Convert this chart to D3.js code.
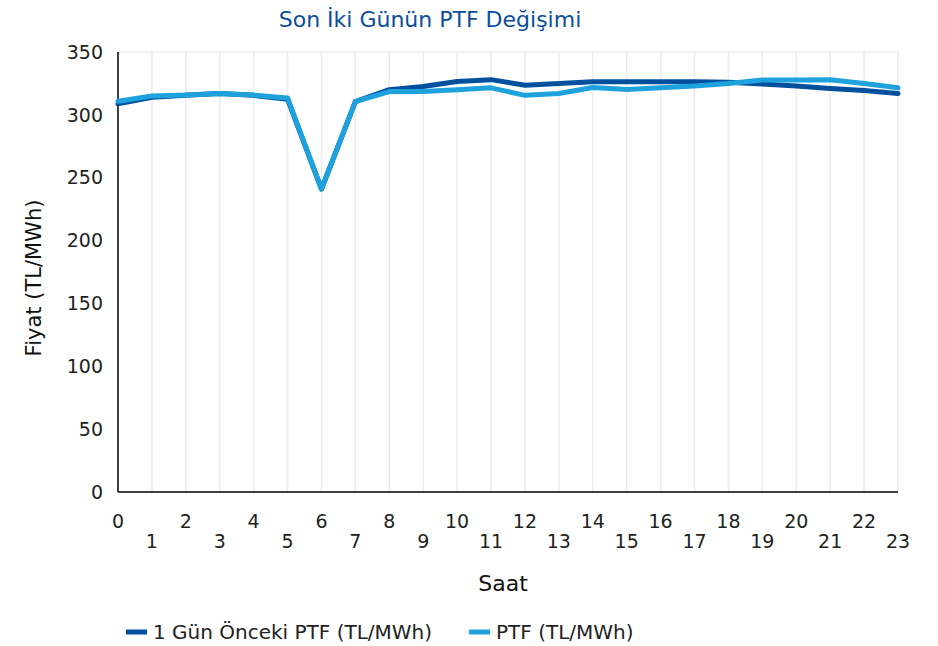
<!DOCTYPE html>
<html>
<head>
<meta charset="utf-8">
<script src="https://cdn.jsdelivr.net/npm/d3@7"></script>
<style>
  body { margin: 0; background: #fff; }
  svg text { font-family: "DejaVu Sans", sans-serif; }
</style>
</head>
<body>
<div id="chart"></div>
<script>
/*
Son iki gunun PTF grafigi
*/

var hours = d3.range(0, 24);
var yTicks = [0, 50, 100, 150, 200, 250, 300, 350];

// 1 Gun Onceki PTF (TL/MWh)
var prevDay = [308.7, 314, 315.5, 317, 315.5, 312.5, 241, 310.5, 320, 322.5, 326.5, 328,
               323.5, 325, 326.3, 326.3, 326.3, 326.3, 326, 324.6, 323, 321, 319.3, 317];
// PTF (TL/MWh)
var ptf = [310.8, 315, 315.7, 317, 315.7, 313.5, 241, 310.5, 318.5, 318.5, 320, 321.5,
           315.5, 317, 321.8, 320.2, 321.5, 323, 325, 327.8, 327.8, 328, 325, 321.5];

var seriesNames = ["1 Gün Önceki PTF (TL/MWh)", "PTF (TL/MWh)"];
var seriesColors = ["#00509e", "#1ea2de"];

var width = 938, height = 646;
var plotLeft = 118, plotRight = 898, plotTop = 52, plotBottom = 492;

var svg = d3.select("#chart")
    .append("svg")
    .attr("width", width)
    .attr("height", height);

var x = d3.scaleLinear().domain([0, 23]).range([plotLeft, plotRight]);
var y = d3.scaleLinear().domain([0, 350]).range([plotBottom, plotTop]);

// title
svg.append("text")
    .attr("x", 430)
    .attr("y", 27)
    .attr("text-anchor", "middle")
    .attr("font-size", "22px")
    .attr("fill", "#0b4f9c")
    .text("Son İki Günün PTF Değişimi");

// vertical grid lines
svg.append("g")
    .selectAll("line")
    .data(hours.slice(1))
    .enter()
    .append("line")
    .attr("x1", function(d) { return x(d); })
    .attr("x2", function(d) { return x(d); })
    .attr("y1", plotTop)
    .attr("y2", plotBottom)
    .attr("stroke", "#ececec")
    .attr("stroke-width", 1.5);

// top line at 350
svg.append("line")
    .attr("x1", plotLeft).attr("x2", plotRight)
    .attr("y1", y(350)).attr("y2", y(350))
    .attr("stroke", "#ececec")
    .attr("stroke-width", 1.5);

// axes lines
svg.append("line")
    .attr("x1", plotLeft).attr("x2", plotLeft)
    .attr("y1", plotTop).attr("y2", plotBottom)
    .attr("stroke", "#000")
    .attr("stroke-width", 1.5);
svg.append("line")
    .attr("x1", plotLeft).attr("x2", plotRight)
    .attr("y1", plotBottom).attr("y2", plotBottom)
    .attr("stroke", "#000")
    .attr("stroke-width", 1.5);

// y tick labels
svg.append("g")
    .selectAll("text")
    .data(yTicks)
    .enter()
    .append("text")
    .attr("x", 103)
    .attr("y", function(d) { return y(d); })
    .attr("dy", ".35em")
    .attr("text-anchor", "end")
    .attr("font-size", "19px")
    .attr("fill", "#222")
    .text(function(d) { return d; });

// x tick labels, even on top row, odd on second row
svg.append("g")
    .selectAll("text")
    .data(hours)
    .enter()
    .append("text")
    .attr("x", function(d) { return x(d); })
    .attr("y", function(d) { return d % 2 == 0 ? 528 : 548; })
    .attr("text-anchor", "middle")
    .attr("font-size", "19px")
    .attr("fill", "#222")
    .text(function(d) { return d; });

// axis titles
svg.append("text")
    .attr("transform", "translate(41," + ((plotTop + plotBottom) / 2 + 6) + ") rotate(-90)")
    .attr("text-anchor", "middle")
    .attr("font-size", "21px")
    .attr("fill", "#111")
    .text("Fiyat (TL/MWh)");

svg.append("text")
    .attr("x", 503)
    .attr("y", 591)
    .attr("text-anchor", "middle")
    .attr("font-size", "22px")
    .attr("fill", "#111")
    .text("Saat");

// lines
var line = d3.line()
    .x(function(d, i) { return x(i); })
    .y(function(d) { return y(d); });

[prevDay, ptf].forEach(function(s, k) {
    svg.append("path")
        .datum(s)
        .attr("d", line)
        .attr("fill", "none")
        .attr("stroke", seriesColors[k])
        .attr("stroke-width", 5)
        .attr("stroke-linejoin", "round")
        .attr("stroke-linecap", "round");
});

// legend
var legendX = [126, 469];
var legend = svg.append("g")
    .selectAll("g")
    .data(seriesNames)
    .enter()
    .append("g")
    .attr("transform", function(d, i) { return "translate(" + legendX[i] + ",632)"; });

legend.append("line")
    .attr("x1", 0).attr("x2", 21)
    .attr("y1", 0).attr("y2", 0)
    .attr("stroke", function(d, i) { return seriesColors[i]; })
    .attr("stroke-width", 5);

legend.append("text")
    .attr("x", 27)
    .attr("y", 0)
    .attr("dy", ".35em")
    .attr("font-size", "20px")
    .attr("fill", "#222")
    .text(function(d) { return d; });
</script>
</body>
</html>
